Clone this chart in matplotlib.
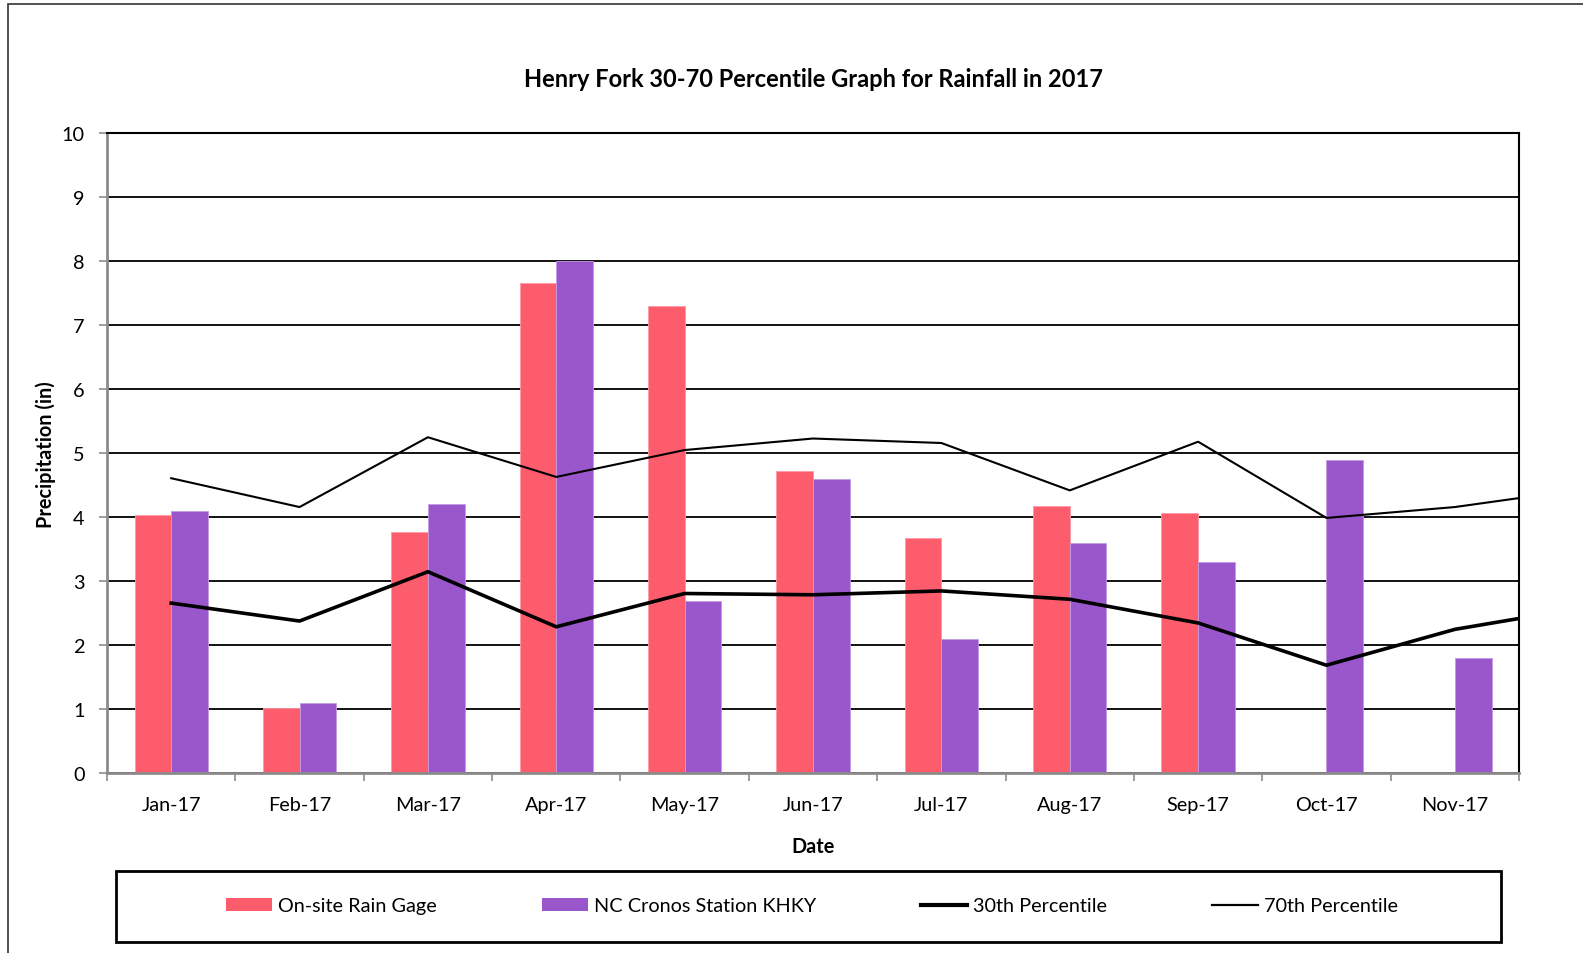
import numpy as np
import matplotlib
matplotlib.use("Agg")
import matplotlib.pyplot as plt
from matplotlib.patches import Rectangle, Patch
from matplotlib.lines import Line2D

plt.rcParams['font.family'] = ['Lato', 'DejaVu Sans']

# monthly rainfall totals (in)
meses = ['Jan-17', 'Feb-17', 'Mar-17', 'Apr-17', 'May-17', 'Jun-17',
         'Jul-17', 'Aug-17', 'Sep-17', 'Oct-17', 'Nov-17']
onsite = [4.04, 1.02, 3.77, 7.66, 7.30, 4.72, 3.67, 4.18, 4.06, np.nan, np.nan]
khky = [4.1, 1.1, 4.2, 8.0, 2.7, 4.6, 2.1, 3.6, 3.3, 4.9, 1.8]

# percentile curves have one more point (Dec) that runs off the right edge
p30 = [2.66, 2.38, 3.15, 2.29, 2.81, 2.79, 2.85, 2.72, 2.35, 1.69, 2.25, 2.59]
p70 = [4.61, 4.16, 5.25, 4.63, 5.05, 5.23, 5.16, 4.42, 5.18, 3.99, 4.16, 4.44]

vermelho = '#FD5C6D'
roxo = '#9A57CB'
cinza = '#8C8C8C'

fig = plt.figure(figsize=(15.83, 9.54), dpi=100)
ax = fig.add_axes([0.0676, 0.1882, 0.892, 0.6713])

x = np.arange(len(meses))
larg = 1 / 3.5  # gap width 150%
ax.bar(x - larg / 2, onsite, width=larg, color=vermelho, edgecolor='#FF9AA5',
       linewidth=0.6, zorder=2)
ax.bar(x + larg / 2, khky, width=larg, color=roxo, edgecolor='#C49BE6',
       linewidth=0.6, zorder=2)

xl = np.arange(len(p30))
ax.plot(xl, p30, color='black', linewidth=2.6, zorder=3)
ax.plot(xl, p70, color='black', linewidth=1.5, zorder=3)

ax.set_xlim(-0.5, len(meses) - 0.5)
ax.set_ylim(0, 10)
ax.set_yticks(range(0, 11))
ax.yaxis.grid(True, color='black', linewidth=1.3, zorder=0)
ax.set_axisbelow(True)

ax.set_xticks(x)
ax.set_xticklabels(meses)
ax.set_xticks(np.arange(-0.5, len(meses), 1), minor=True)
ax.tick_params(axis='x', which='major', length=0, pad=16, labelsize=14.3)
ax.tick_params(axis='x', which='minor', length=6, width=1.2, color=cinza, direction='out')
ax.tick_params(axis='y', length=6, width=1.2, color=cinza, pad=10, labelsize=14.3)

for lado in ['left', 'bottom']:
    ax.spines[lado].set_color(cinza)
    ax.spines[lado].set_linewidth(2)
for lado in ['top', 'right']:
    ax.spines[lado].set_color('black')
    ax.spines[lado].set_linewidth(1.5)

ax.set_xlabel('Date', fontsize=14.3, fontweight='bold', labelpad=17)
ax.set_ylabel('Precipitation (in)', fontsize=14.3, fontweight='bold', labelpad=4)
ax.set_title('Henry Fork 30-70 Percentile Graph for Rainfall in 2017',
             fontsize=17, fontweight='bold', pad=34)

# chart area border (runs past right and bottom edges)
fig.patches.append(Rectangle((8 / 1583, -0.05), 1.1, 1 - 5 / 954 + 0.05,
                             transform=fig.transFigure, fill=False,
                             edgecolor='#333333', linewidth=1.2))

# legend box
fig.patches.append(Rectangle((116 / 1583, 1 - 943 / 954), (1501 - 116) / 1583, 71 / 954,
                             transform=fig.transFigure, fill=False,
                             edgecolor='black', linewidth=2))

handles = [Patch(facecolor=vermelho), Patch(facecolor=roxo),
           Line2D([], [], color='black', linewidth=3),
           Line2D([], [], color='black', linewidth=1.6)]
rotulos = ['On-site Rain Gage', 'NC Cronos Station KHKY', '30th Percentile', '70th Percentile']
fig.legend(handles, rotulos, loc='center', bbox_to_anchor=(812 / 1583, 1 - 907 / 954),
           ncol=4, frameon=False, fontsize=14.3, handlelength=2.3, handleheight=0.65,
           handletextpad=0.3, columnspacing=5.3)

fig.savefig('out.png', dpi=100)
